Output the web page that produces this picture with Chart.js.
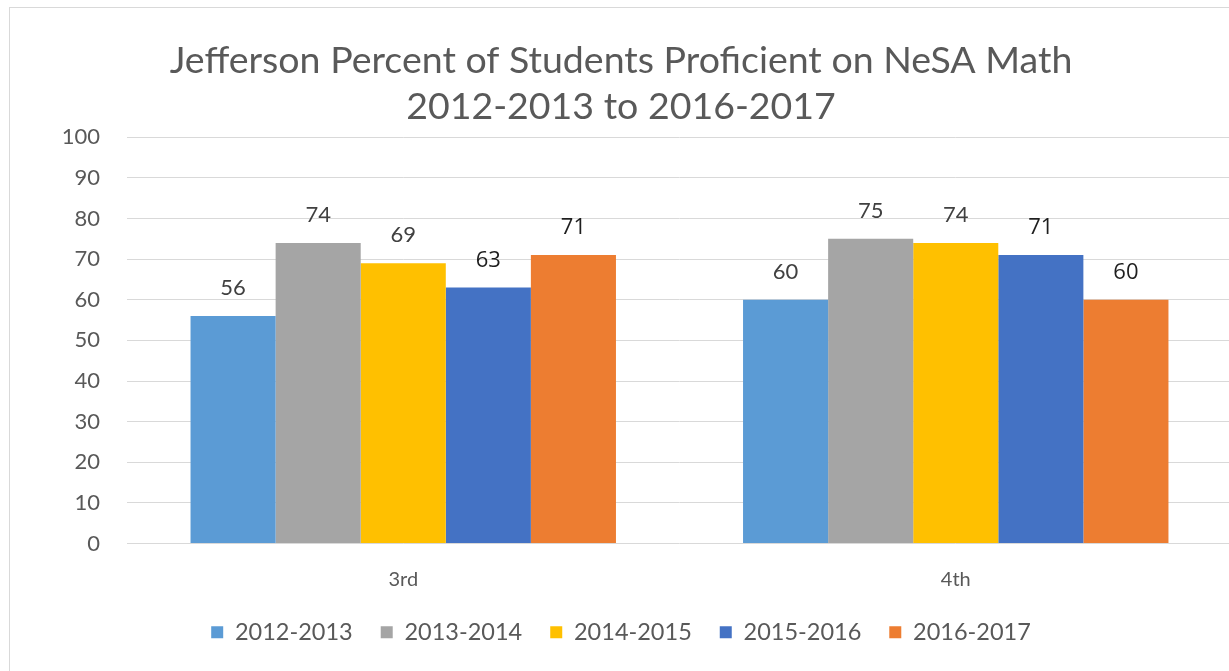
<!DOCTYPE html>
<html>
<head>
<meta charset="utf-8">
<title>Jefferson NeSA Math</title>
<script src="https://cdn.jsdelivr.net/npm/chart.js@4.4.1/dist/chart.umd.min.js"></script>
<style>
  html, body { margin: 0; padding: 0; background: #fff; overflow: hidden; }
  body { width: 1229px; height: 671px; position: relative; }
  #frame {
    position: absolute; left: 9px; top: 7px; width: 1226px; height: 664px;
    border-left: 1px solid #d9d9d9; border-top: 1px solid #d9d9d9;
  }
  #chart { display: block; }
</style>
</head>
<body>
<div id="frame"><canvas id="chart" width="1225" height="664"></canvas></div>
<script>
// 학년별 NeSA 수학 숙달 비율
var grades = ['3rd', '4th'];
var years = ['2012-2013', '2013-2014', '2014-2015', '2015-2016', '2016-2017'];
var v2012 = [56, 60];
var v2013 = [74, 75];
var v2014 = [69, 74];
var v2015 = [63, 71];
var v2016 = [71, 60];
var yTicks = [0, 10, 20, 30, 40, 50, 60, 70, 80, 90, 100];

var colors = ['#5b9bd5', '#a5a5a5', '#ffc000', '#4472c4', '#ed7d31'];
var series = [v2012, v2013, v2014, v2015, v2016];

// 막대 위 값 라벨 (datalabels 플러그인 없이 직접 그림)
var valueLabels = {
  id: 'valueLabels',
  afterDatasetsDraw: function (chart) {
    var ctx = chart.ctx;
    ctx.save();
    ctx.textAlign = 'center';
    ctx.textBaseline = 'middle';
    chart.data.datasets.forEach(function (ds, i) {
      var meta = chart.getDatasetMeta(i);
      // 뒤 두 시리즈는 원본에서 더 진하게 보임
      if (i >= 3) {
        ctx.font = '22px "Open Sans", sans-serif';
        ctx.fillStyle = '#1e1e1e';
      } else {
        ctx.font = '22px Lato, sans-serif';
        ctx.fillStyle = '#404040';
      }
      meta.data.forEach(function (bar, j) {
        var dy = i >= 3 ? 27 : 28;
        ctx.fillText(ds.data[j], bar.x, bar.y - dy);
      });
    });
    ctx.restore();
  }
};

var datasets = years.map(function (y, i) {
  return {
    label: y,
    data: series[i],
    backgroundColor: colors[i],
    borderWidth: 0,
    barPercentage: 1,
    categoryPercentage: 0.77
  };
});

new Chart(document.getElementById('chart').getContext('2d'), {
  type: 'bar',
  data: { labels: grades, datasets: datasets },
  plugins: [valueLabels],
  options: {
    responsive: false,
    animation: false,
    layout: { padding: { left: 0, right: 3, top: 0, bottom: 18 } },
    plugins: {
      title: {
        display: true,
        text: ['Jefferson Percent of Students Proficient on NeSA Math', '2012-2013 to 2016-2017'],
        color: '#595959',
        font: { family: 'Lato, sans-serif', size: 37.5, weight: 'normal', lineHeight: 1.23 },
        padding: { top: 30, bottom: 7 }
      },
      legend: {
        position: 'bottom',
        labels: {
          boxWidth: 12, boxHeight: 12, padding: 28,
          color: '#595959',
          font: { family: 'Lato, sans-serif', size: 23.5 }
        }
      },
      tooltip: { enabled: false }
    },
    scales: {
      x: {
        grid: { display: false, drawTicks: false },
        border: { display: false },
        ticks: { color: '#595959', font: { family: 'Lato, sans-serif', size: 20 }, padding: 24 },
        // 범례를 축 라벨 쪽으로 당김
        afterFit: function (scale) { scale.height -= 23; }
      },
      y: {
        min: 0, max: 100,
        afterBuildTicks: function (scale) {
          scale.ticks = yTicks.map(function (v) { return { value: v }; });
        },
        afterFit: function (scale) { scale.width = 117; },
        grid: { color: '#d9d9d9', lineWidth: 1, drawTicks: false },
        border: { display: false },
        ticks: { color: '#595959', font: { family: 'Lato, sans-serif', size: 22 }, padding: 27 }
      }
    }
  }
});
</script>
</body>
</html>
